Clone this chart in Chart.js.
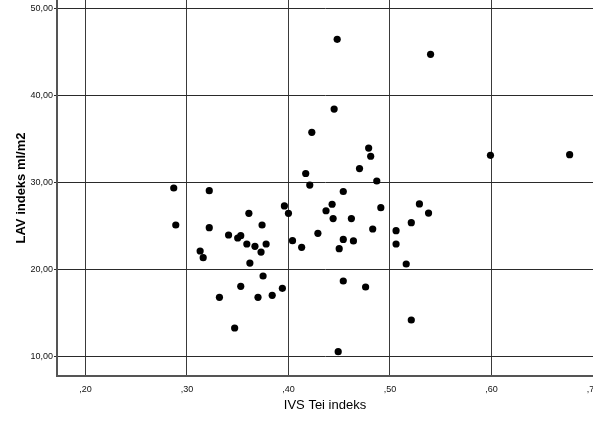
<!DOCTYPE html>
<html>
<head>
<meta charset="utf-8">
<script src="https://cdn.jsdelivr.net/npm/chart.js@4"></script>
<style>
  html, body { margin: 0; padding: 0; background: #fff; }
  canvas { display: block; }
</style>
</head>
<body>
<canvas id="c" width="593" height="425"></canvas>
<script>
const ivsTei = [0.287,0.322,0.289,0.322,0.313,0.316,0.332,0.341,0.350,0.353,0.361,0.359,0.367,0.374,0.373,0.378,0.362,0.375,0.353,0.370,0.384,0.394,0.347,0.396,0.400,0.404,0.413,0.417,0.421,0.423,0.445,0.448,0.479,0.481,0.470,0.487,0.454,0.443,0.437,0.444,0.462,0.491,0.429,0.454,0.464,0.450,0.483,0.506,0.506,0.516,0.454,0.476,0.521,0.449,0.529,0.538,0.521,0.540,0.599,0.677];
const lavIndeks = [29.37,29.06,25.13,24.82,22.15,21.38,16.84,23.98,23.64,23.90,26.47,22.95,22.69,25.13,22.03,22.95,20.77,19.28,18.10,16.84,17.07,17.87,13.32,27.31,26.47,23.33,22.57,31.03,29.71,35.75,38.42,46.41,33.95,33.01,31.60,30.17,28.97,27.51,26.76,25.87,25.87,27.11,24.18,23.47,23.30,22.41,24.67,24.48,22.95,20.66,18.71,18.02,14.24,10.61,27.54,26.50,25.39,44.69,33.12,33.19];
const xTickValues = [0.2, 0.3, 0.4, 0.5, 0.6, 0.7];
const yTickValues = [10, 20, 30, 40, 50];
const xTitle = 'IVS Tei indeks';
const yTitle = 'LAV indeks ml/m2';

const points = ivsTei.map((x, i) => ({ x: x, y: lavIndeks[i] }));
const tickFont = { family: "'Liberation Sans', Arial, sans-serif", size: 9 };

new Chart(document.getElementById('c'), {
  type: 'scatter',
  data: {
    datasets: [{
      data: points,
      backgroundColor: '#000',
      borderColor: '#000',
      pointRadius: 3.6,
      pointHoverRadius: 3.6,
      borderWidth: 0
    }]
  },
  options: {
    responsive: false,
    animation: false,
    events: [],
    layout: { padding: 0, autoPadding: false },
    plugins: { legend: { display: false }, tooltip: { enabled: false } },
    scales: {
      x: {
        type: 'linear',
        min: 0.172,
        max: 0.7,
        afterBuildTicks: (s) => { s.ticks = xTickValues.map(v => ({ value: v })); },
        afterFit: (s) => { s.height = 49; s.paddingLeft = 0; s.paddingRight = 0; },
        grid: { color: '#3a3a3a', lineWidth: 1, drawTicks: false },
        border: { color: '#555', width: 2 },
        ticks: {
          color: '#111',
          font: tickFont,
          padding: 8,
          maxRotation: 0,
          autoSkip: false,
          callback: (v) => Number(v).toFixed(2).replace(/^0\./, ',')
        },
        title: {
          display: true,
          text: xTitle,
          color: '#000',
          font: { family: "'Liberation Sans', Arial, sans-serif", size: 13 },
          padding: { top: 0, bottom: 12 }
        }
      },
      y: {
        type: 'linear',
        min: 7.82,
        max: 50.92,
        afterBuildTicks: (s) => { s.ticks = yTickValues.map(v => ({ value: v })); },
        afterFit: (s) => { s.width = 57; s.paddingTop = 0; s.paddingBottom = 0; },
        grid: { color: '#2a2a2a', lineWidth: 1, drawTicks: true, tickLength: 3 },
        border: { color: '#555', width: 2 },
        ticks: {
          color: '#111',
          font: tickFont,
          padding: 1,
          autoSkip: false,
          callback: (v) => Number(v).toFixed(2).replace('.', ',')
        },
        title: {
          display: true,
          text: yTitle,
          color: '#000',
          font: { family: "'Liberation Sans', Arial, sans-serif", size: 13, weight: 'bold' },
          padding: { top: 14, bottom: 0 }
        }
      }
    }
  }
});
</script>
</body>
</html>
